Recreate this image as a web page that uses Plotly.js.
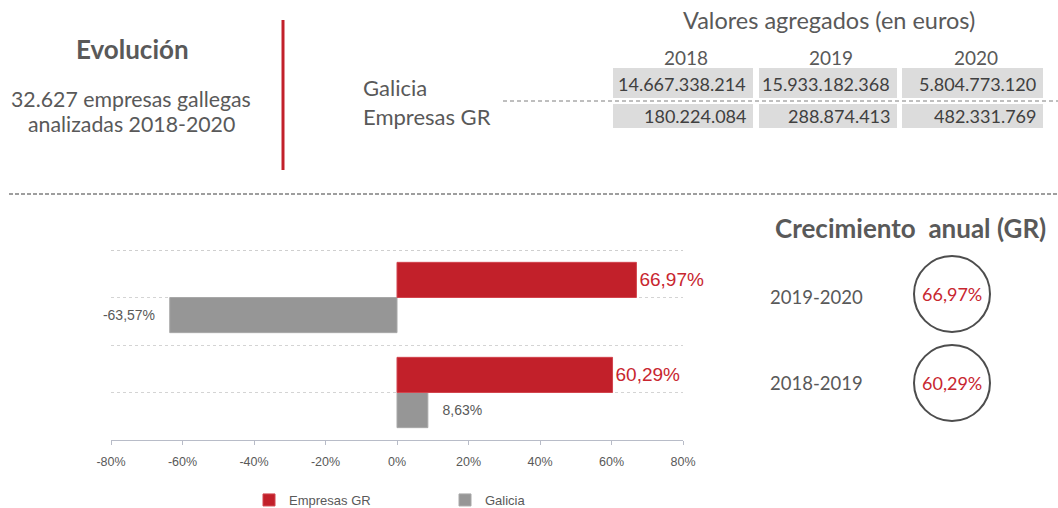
<!DOCTYPE html>
<html>
<head>
<meta charset="utf-8">
<script src="https://cdn.plot.ly/plotly-3.0.1.min.js"></script>
<style>
html,body{margin:0;padding:0;background:#fff;}
#chart{width:1058px;height:508px;}
</style>
</head>
<body>
<div id="chart"></div>
<script>
// ---- data ----
const periods = ['2018-2019', '2019-2020'];
const periodPos = [0, 1];
const galicia = [8.63, -63.57];
const empresasGR = [60.29, 66.97];
const years = ['2018', '2019', '2020'];
const galiciaTotals = [14667338214, 15933182368, 5804773120];
const grTotals = [180224084, 288874413, 482331769];
const xTicks = [-80, -60, -40, -20, 0, 20, 40, 60, 80];
const xTickLabels = ['-80%', '-60%', '-40%', '-20%', '0%', '20%', '40%', '60%', '80%'];

// ---- helpers ----
const RED = '#C2202A', GRAY = '#969696', TXT = '#595959';
const L = 111, R = 683, T = 250, B = 440;
const X = px => (px - L) / (R - L);
const Y = py => (B - py) / (B - T);
const pct = v => v.toFixed(2).replace('.', ',') + '%';
const thousands = n => String(n).replace(/\B(?=(\d{3})+(?!\d))/g, '.');
const HF = 'Lato, "Open Sans", sans-serif';
const CF = '"Liberation Sans", Arial, sans-serif';
const SP = '\u00A0\u00A0\u00A0';

const traces = [
  {
    type: 'bar', orientation: 'h', name: 'Galicia',
    y: periodPos, x: galicia,
    marker: {color: GRAY, line: {color: '#A8A8A8', width: 1}},
    text: galicia.map(v => v < 0 ? pct(v) + SP : SP + pct(v)),
    textposition: 'outside', cliponaxis: false,
    constraintext: 'none',
    textfont: {family: CF, size: 14, color: TXT},
    hoverinfo: 'x+name'
  },
  {
    type: 'bar', orientation: 'h', name: 'Empresas GR',
    y: periodPos, x: empresasGR,
    marker: {color: RED, line: {color: '#D2454E', width: 1}},
    text: empresasGR.map(pct), textposition: 'outside', cliponaxis: false,
    constraintext: 'none',
    textfont: {family: CF, size: 19, color: '#C8262F'},
    hoverinfo: 'x+name'
  }
];

const shapes = [];
const annotations = [];
function txt(text, px, py, size, opts) {
  opts = opts || {};
  annotations.push({
    xref: 'paper', yref: 'paper', x: X(px), y: Y(py),
    xanchor: opts.xanchor || 'center', yanchor: 'middle',
    text: text, showarrow: false,
    font: {family: opts.family || HF, size: size, color: opts.color || TXT, weight: opts.weight || 'normal'}
  });
}

// top gridline of the plot (edge gridline is dropped by Plotly)
shapes.push({type: 'line', xref: 'paper', yref: 'paper', x0: 0, x1: 1, y0: Y(250.5), y1: Y(250.5), line: {color: '#CFCFCF', width: 1, dash: 'dot'}, layer: 'below'});

// Left header block
txt('Evolución', 132, 49, 26, {weight: 'bold'});
txt('32.627 empresas gallegas', 131, 99, 21.3);
txt('analizadas 2018-2020', 131, 124, 21.3);
// red separator
shapes.push({type: 'line', xref: 'paper', yref: 'paper', x0: X(283), x1: X(283), y0: Y(20), y1: Y(170), line: {color: RED, width: 3}});
// row labels
txt('Galicia', 361, 87, 22, {xanchor: 'left'});
txt('Empresas GR', 361, 116, 22, {xanchor: 'left'});
// table
txt('Valores agregados (en euros)', 829, 20, 23.5);
const cellX = [[613, 753], [759, 897], [902, 1043]];
years.forEach((yr, i) => {
  const [a, b] = cellX[i];
  txt(yr, (a + b) / 2 + 3, 57, 19);
  shapes.push({type: 'rect', xref: 'paper', yref: 'paper', x0: X(a), x1: X(b), y0: Y(98), y1: Y(68), fillcolor: '#DCDCDC', line: {width: 0}, layer: 'below'});
  shapes.push({type: 'rect', xref: 'paper', yref: 'paper', x0: X(a), x1: X(b), y0: Y(128), y1: Y(104), fillcolor: '#DCDCDC', line: {width: 0}, layer: 'below'});
  txt(thousands(galiciaTotals[i]), b - 5, 84, 18, {xanchor: 'right', color: '#404040'});
  txt(thousands(grTotals[i]), b - 5, 116, 18, {xanchor: 'right', color: '#404040'});
});
// dashed lines
shapes.push({type: 'line', xref: 'paper', yref: 'paper', x0: X(503), x1: X(1058), y0: Y(101), y1: Y(101), line: {color: '#7F7F7F', width: 1, dash: '4px,3px'}});
shapes.push({type: 'line', xref: 'paper', yref: 'paper', x0: X(9), x1: X(1058), y0: Y(194), y1: Y(194), line: {color: '#7F7F7F', width: 1.5, dash: '4px,2px'}});

// right block
txt('Crecimiento&nbsp; anual (GR)', 910, 228, 26, {weight: 'bold'});
const circY = [383, 294];
periods.forEach((p, i) => {
  txt(p, 816, circY[i] + (i === 1 ? 3 : 0), 18.5);
  const cx = 952, cy = circY[i], r = 38;
  shapes.push({type: 'circle', xref: 'paper', yref: 'paper', x0: X(cx - r), x1: X(cx + r), y0: Y(cy + r), y1: Y(cy - r), line: {color: '#4D4D4D', width: 2}, fillcolor: 'rgba(0,0,0,0)'});
  txt(pct(empresasGR[i]), cx, cy, 18, {color: '#C8262F'});
});

const layout = {
  width: 1058, height: 508,
  margin: {l: L, r: 1058 - R, t: T, b: 508 - B, pad: 0, autoexpand: false},
  paper_bgcolor: '#fff', plot_bgcolor: '#fff',
  barmode: 'group', bargap: 0.26, bargroupgap: 0,
  separators: ',.',
  showlegend: true,
  legend: {
    orientation: 'h', traceorder: 'reversed',
    x: X(249), xanchor: 'left', y: Y(500), yanchor: 'middle',
    font: {family: CF, size: 13, color: TXT},
    entrywidth: 151, entrywidthmode: 'pixels',
    bgcolor: 'rgba(0,0,0,0)'
  },
  xaxis: {
    range: [-80, 80], tickmode: 'array', tickvals: xTicks, ticktext: xTickLabels,
    showgrid: false, zeroline: false,
    showline: true, linecolor: '#B8BCC8', linewidth: 1,
    ticks: 'outside', ticklen: 4, tickcolor: '#B8BCC8',
    ticklabelstandoff: 6,
    tickfont: {family: CF, size: 12.5, color: TXT},
    fixedrange: true
  },
  yaxis: {
    range: [-0.5, 1.5], tickmode: 'linear', tick0: -0.5, dtick: 0.5,
    showticklabels: false, showgrid: true, gridcolor: '#D4D4D4', gridwidth: 1, griddash: 'dot',
    zeroline: false, showline: false, fixedrange: true
  },
  shapes: shapes,
  annotations: annotations
};

Plotly.newPlot('chart', traces, layout, {displayModeBar: false, staticPlot: true});
</script>
</body>
</html>
